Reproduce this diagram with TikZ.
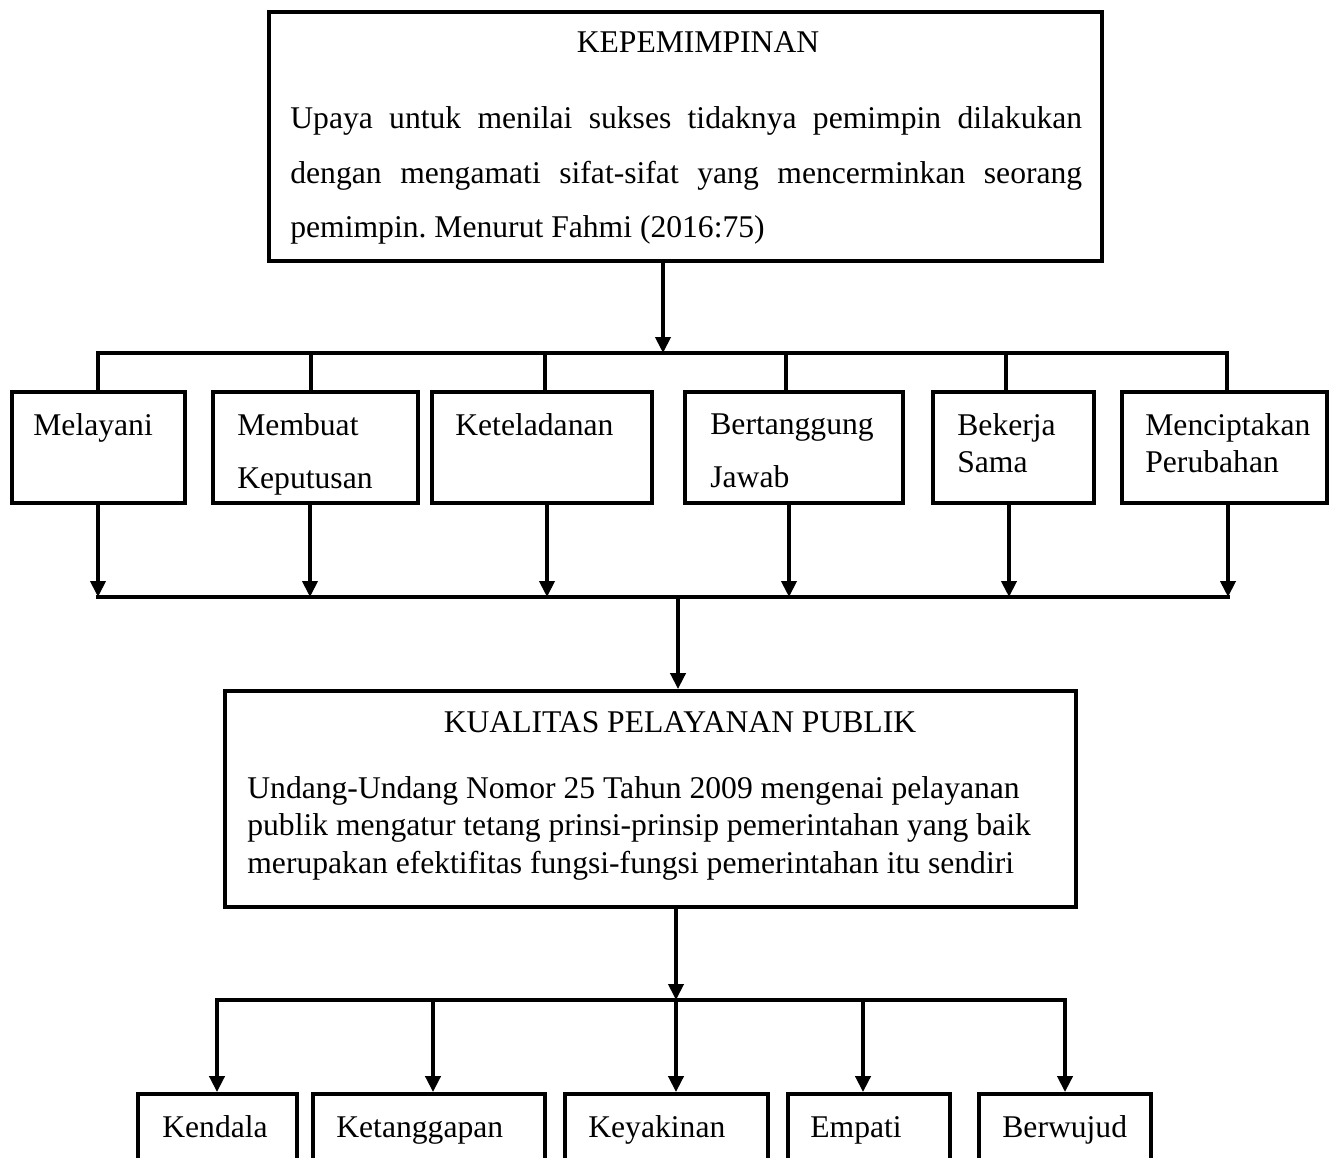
\documentclass[tikz,border=0pt]{standalone}
\usepackage{fontspec}
\setmainfont{Liberation Serif}
\usetikzlibrary{arrows.meta, positioning, calc}
\frenchspacing
\tikzset{
    box/.style={
        draw=black,
        line width=2.2pt,
        inner sep=0pt,
    },
    txt/.style={
        inner sep=0pt,
        align=left,
        font=\fontsize{18}{21.3}\selectfont,
    },
    link/.style={
        line width=2.2pt,
        line join=miter,
    },
}

\begin{document}
\begin{tikzpicture}[x=0.02cm, y=-0.02cm, >={Triangle[width=0.3cm, length=0.32cm]}]
      \useasboundingbox (0,0) rectangle (1337,1157);
      \clip (0,0) rectangle (1337,1157);

      % kepemimpinan
      \node[box, minimum width=16.66cm, minimum height=4.98cm] (lead) at (685.5,136.5) {};
      \node[txt, anchor=base] (leadtitle) at (698,52) {KEPEMIMPINAN};
      \node[txt, anchor=north west, text width=15.84cm, align=justify,
            font=\fontsize{18}{31.2}\selectfont] (leadtext) at (290,106)
            {Upaya untuk menilai sukses tidaknya pemimpin dilakukan\linebreak
             dengan mengamati sifat-sifat yang mencerminkan seorang\linebreak
             pemimpin. Menurut Fahmi (2016:75)};

      % sifat pemimpin
      \node[box, minimum width=3.46cm, minimum height=2.22cm] (m1) at (98.5,447.5) {};
      \node[box, minimum width=4.10cm, minimum height=2.22cm] (m2) at (315.5,447.5) {};
      \node[box, minimum width=4.40cm, minimum height=2.22cm] (m3) at (542,447.5) {};
      \node[box, minimum width=4.36cm, minimum height=2.22cm] (m4) at (794,447.5) {};
      \node[box, minimum width=3.22cm, minimum height=2.22cm] (m5) at (1013.5,447.5) {};
      \node[box, minimum width=4.10cm, minimum height=2.22cm] (m6) at (1224.5,447.5) {};

      \node[txt, anchor=north west] (m1text) at (33,413) {Melayani};
      \node[txt, anchor=north west] (m2text) at (237,413) {Membuat\\[9pt]Keputusan};
      \node[txt, anchor=north west] (m3text) at (455,413) {Keteladanan};
      \node[txt, anchor=north west] (m4text) at (710,413) {Bertanggung\\[9pt]Jawab};
      \node[txt, anchor=north west] (m5text) at (957,413) {Bekerja\\Sama};
      \node[txt, anchor=north west] (m6text) at (1145,413) {Menciptakan\\Perubahan};

      % kualitas pelayanan publik
      \node[box, minimum width=17.02cm, minimum height=4.32cm] (qual) at (650.5,799) {};
      \node[txt, anchor=base] (qualtitle) at (680,732) {KUALITAS PELAYANAN PUBLIK};
      \node[txt, anchor=north west] (qualtext) at (247,776)
            {Undang-Undang Nomor 25 Tahun 2009 mengenai pelayanan\\
             publik mengatur tetang prinsi-prinsip pemerintahan yang baik\\
             merupakan efektifitas fungsi-fungsi pemerintahan itu sendiri};

      % dimensi kualitas
      \node[box, minimum width=3.18cm, minimum height=2.14cm] (k1) at (217.5,1147.5) {};
      \node[box, minimum width=4.64cm, minimum height=2.14cm] (k2) at (429,1147.5) {};
      \node[box, minimum width=4.06cm, minimum height=2.14cm] (k3) at (666.5,1147.5) {};
      \node[box, minimum width=3.24cm, minimum height=2.14cm] (k4) at (869,1147.5) {};
      \node[box, minimum width=3.44cm, minimum height=2.14cm] (k5) at (1065,1147.5) {};

      \node[txt, anchor=base west] (k1text) at (162,1137) {Kendala};
      \node[txt, anchor=base west] (k2text) at (336,1137) {Ketanggapan};
      \node[txt, anchor=base west] (k3text) at (588,1137) {Keyakinan};
      \node[txt, anchor=base west] (k4text) at (810,1137) {Empati};
      \node[txt, anchor=base west] (k5text) at (1002,1137) {Berwujud};

      % upper bus
      \coordinate (top) at (663,353);
      \coordinate (a1) at (98,353);
      \coordinate (a2) at (311,353);
      \coordinate (a3) at (545,353);
      \coordinate (a4) at (786,353);
      \coordinate (a5) at (1006,353);
      \coordinate (a6) at (1227,353);
      \draw[link, ->] (lead.south -| top) -- (top);
      \draw[link] (a1 |- m1.north) -- (a1) -- (a6) -- (a6 |- m6.north);
      \draw[link] (a2) -- (a2 |- m2.north);
      \draw[link] (a3) -- (a3 |- m3.north);
      \draw[link] (a4) -- (a4 |- m4.north);
      \draw[link] (a5) -- (a5 |- m5.north);

      % middle bus
      \coordinate (b1) at (98,597);
      \coordinate (b2) at (310,597);
      \coordinate (b3) at (547,597);
      \coordinate (b4) at (789,597);
      \coordinate (b5) at (1009,597);
      \coordinate (b6) at (1228,597);
      \coordinate (mid) at (678,597);
      \draw[link, line cap=rect] (b1) -- (b6);
      \draw[link, ->] (m1.south -| b1) -- (b1);
      \draw[link, ->] (m2.south -| b2) -- (b2);
      \draw[link, ->] (m3.south -| b3) -- (b3);
      \draw[link, ->] (m4.south -| b4) -- (b4);
      \draw[link, ->] (m5.south -| b5) -- (b5);
      \draw[link, ->] (m6.south -| b6) -- (b6);
      \draw[link, ->] (mid) -- (mid |- qual.north);

      % lower bus
      \coordinate (low) at (676,1000);
      \coordinate (c1) at (217,1000);
      \coordinate (c2) at (433,1000);
      \coordinate (c3) at (676,1000);
      \coordinate (c4) at (863,1000);
      \coordinate (c5) at (1065,1000);
      \draw[link, ->] (qual.south -| low) -- (low);
      \draw[link, <->] (c1 |- k1.north) -- (c1) -- (c5) -- (c5 |- k5.north);
      \draw[link, ->] (c2) -- (c2 |- k2.north);
      \draw[link, ->] (c3) -- (c3 |- k3.north);
      \draw[link, ->] (c4) -- (c4 |- k4.north);
\end{tikzpicture}
\end{document}
